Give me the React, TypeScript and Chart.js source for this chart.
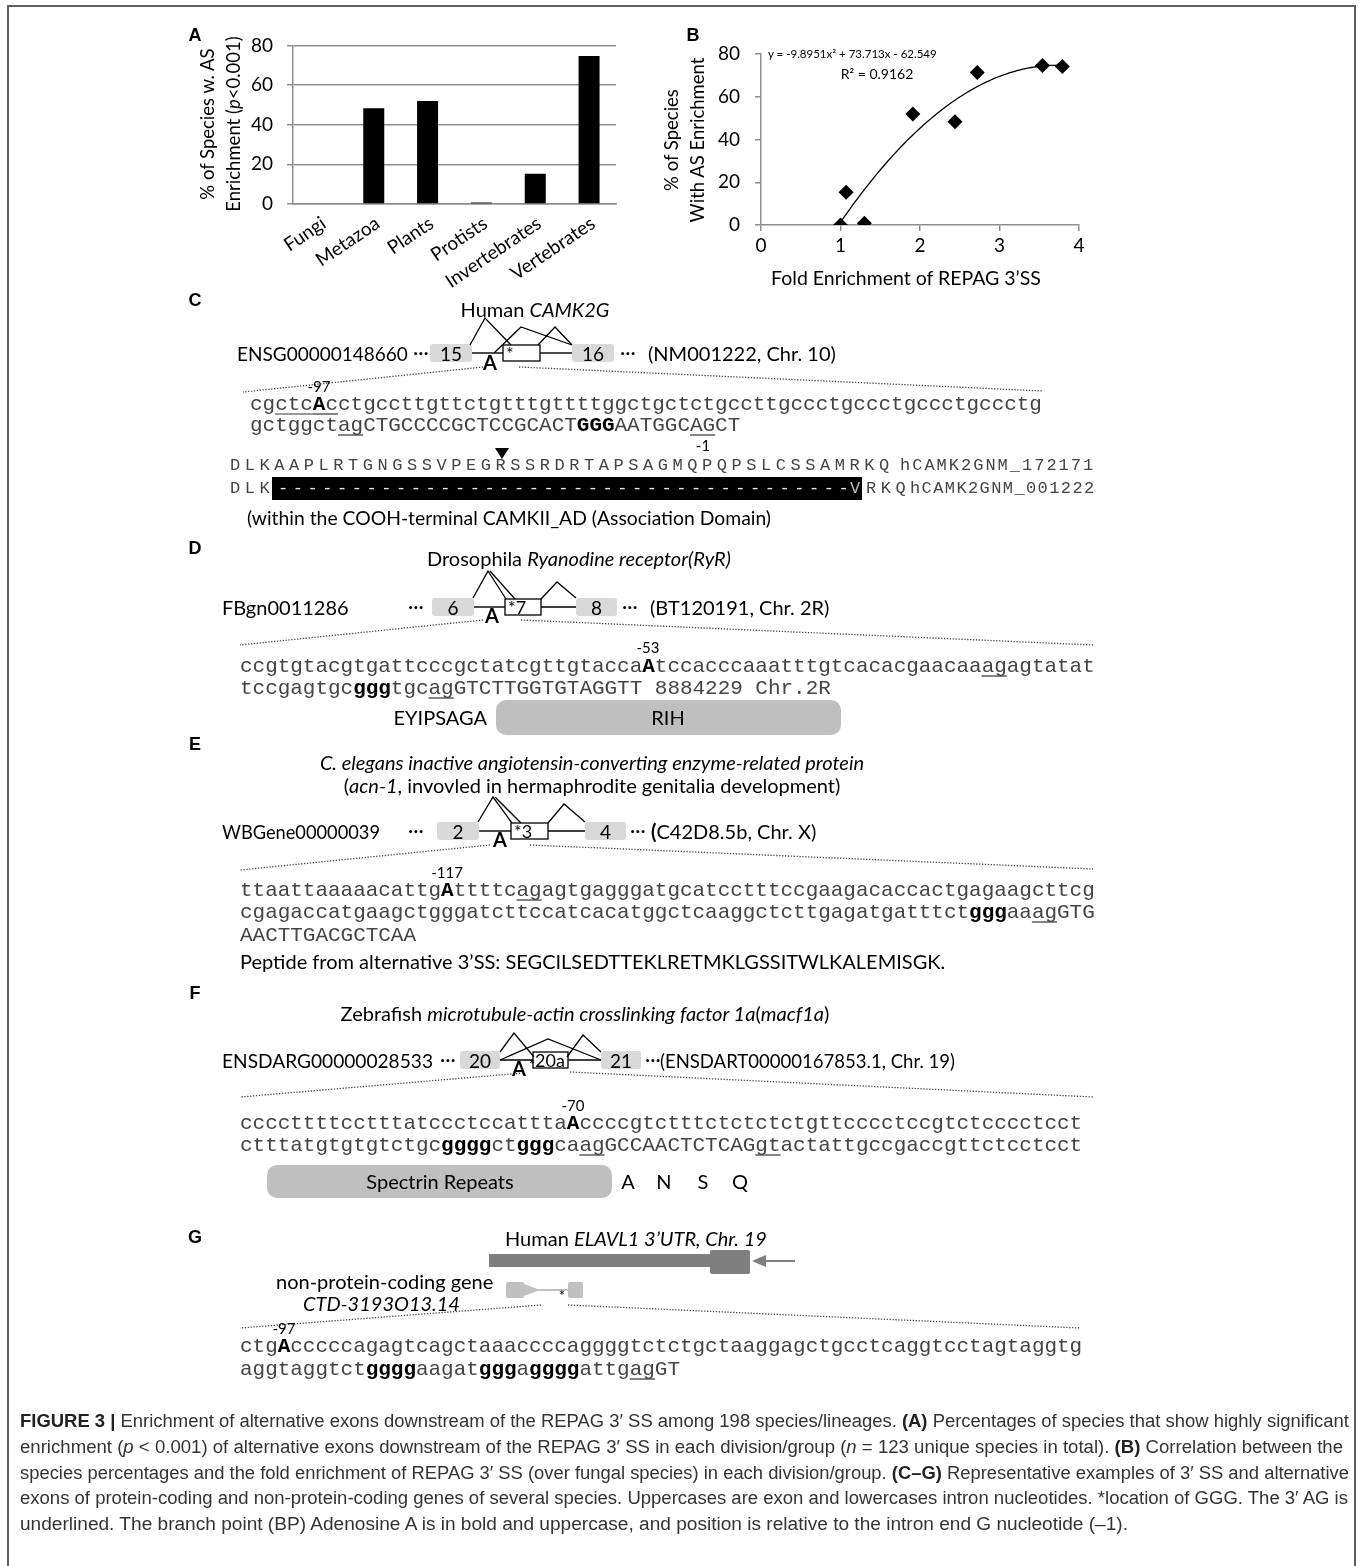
import React, { useEffect, useRef } from "react";
import { Chart, registerables } from "chart.js";
Chart.register(...registerables);

// ---------- Panel A data ----------
const CATEGORIES = ["Fungi", "Metazoa", "Plants", "Protists", "Invertebrates", "Vertebrates"];
const PCT_SPECIES = [0, 48.3, 51.9, 0.8, 15.3, 74.6];

// ---------- Panel B data ----------
const FOLD_ENRICH = [1.0, 1.07, 1.3, 1.91, 2.44, 2.72, 3.54, 3.79];
const PCT_ENRICH = [0, 15.3, 0.8, 51.9, 48.3, 71.3, 74.6, 74.1];
// polynomial trendline coefficients, as printed on the chart
const TREND_COEF = [-9.8951, 73.713, -62.549];
const TREND_RANGE = [1.0, 3.79];

const SANS = "Lato, 'Open Sans', sans-serif";
const ARIAL = "'Liberation Sans', Arial, sans-serif";
const MONO = "'Liberation Mono', 'DejaVu Sans Mono', monospace";
const CAP = "'Liberation Sans Narrow', 'Liberation Sans', Arial, sans-serif";
const GRID = "#8e8e8e";

type Seg = [string, string?];

// sequences
const C_SEQ1: Seg[] = [["cg"], ["ctc", "u"], ["A", "bu"], ["c", "u"], ["ctgccttgttctgtttgttttggctgctctgccttgccctgccctgccctgccctg"]];
const C_SEQ2: Seg[] = [["gctggct"], ["ag", "u"], ["CTGCCCCGCTCCGCACT"], ["GGG", "b"], ["AATGGC"], ["AG", "u"], ["CT"]];
const D_SEQ1: Seg[] = [["ccgtgtacgtgattcccgctatcgttgtacca"], ["A", "b"], ["tccacccaaatttgtcacacgaacaa"], ["ag", "u"], ["agtatat"]];
const D_SEQ2: Seg[] = [["tccgagtgc"], ["ggg", "b"], ["tgc"], ["ag", "u"], ["GTCTTGGTGTAGGTT 8884229 Chr.2R"]];
const E_SEQ1: Seg[] = [["ttaattaaaaacattg"], ["A", "b"], ["ttttc"], ["ag", "u"], ["agtgagggatgcatcctttccgaagacaccactgagaagcttcg"]];
const E_SEQ2: Seg[] = [["cgagaccatgaagctgggatcttccatcacatggctcaaggctcttgagatgatttct"], ["ggg", "b"], ["aa"], ["ag", "u"], ["GTG"]];
const E_SEQ3: Seg[] = [["AACTTGACGCTCAA"]];
const F_SEQ1: Seg[] = [["ccccttttcctttatccctccattta"], ["A", "b"], ["ccccgtctttctctctctgttcccctccgtctcccctcct"]];
const F_SEQ2: Seg[] = [["ctttatgtgtgtctgc"], ["gggg", "b"], ["ct"], ["ggg", "b"], ["ca"], ["ag", "u"], ["GCCAACTCTCAG"], ["gt", "u"], ["actattgccgaccgttctcctcct"]];
const G_SEQ1: Seg[] = [["ctg"], ["A", "b"], ["cccccagagtcagctaaaccccaggggtctctgctaaggagctgcctcaggtcctagtaggtg"]];
const G_SEQ2: Seg[] = [["aggtaggtct"], ["gggg", "b"], ["aagat"], ["ggg", "b"], ["a"], ["gggg", "b"], ["attg"], ["ag", "u"], ["GT"]];

const PROT1 = "DLKAAPLRTGNGSSVPEGRSSRDRTAPSAGMQPQPSLCSSAMRKQ";

const CAPTION: Seg[][] = [
  [["FIGURE 3 | ", "b"], ["Enrichment of alternative exons downstream of the REPAG 3\u2032 SS among 198 species/lineages. "], ["(A)", "b"], [" Percentages of species that show highly significant"]],
  [["enrichment ("], ["p", "i"], [" < 0.001) of alternative exons downstream of the REPAG 3\u2032 SS in each division/group ("], ["n", "i"], [" = 123 unique species in total). "], ["(B)", "b"], [" Correlation between the"]],
  [["species percentages and the fold enrichment of REPAG 3\u2032 SS (over fungal species) in each division/group. "], ["(C\u2013G)", "b"], [" Representative examples of 3\u2032 SS and alternative"]],
  [["exons of protein-coding and non-protein-coding genes of several species. Uppercases are exon and lowercases intron nucleotides. *location of GGG. The 3\u2032 AG is"]],
  [["underlined. The branch point (BP) Adenosine A is in bold and uppercase, and position is relative to the intron end G nucleotide (\u20131)."]],
];
const CAP_END = [1349, 1343, 1349, 1348, 1128];
const CAP_Y = [1421, 1447, 1473, 1498, 1524];

const T = ({ x, y, size = 20, anchor = "start", weight, italic, fam = SANS, fill = "#000", w, rot, children }: any) => (
  <text
    x={x}
    y={y}
    fontSize={size}
    fontFamily={fam}
    fill={fill}
    textAnchor={anchor}
    dominantBaseline="central"
    fontWeight={weight}
    fontStyle={italic ? "italic" : undefined}
    textLength={w}
    lengthAdjust={w ? "spacingAndGlyphs" : undefined}
    transform={rot ? `rotate(${rot} ${x} ${y})` : undefined}
  >
    {children}
  </text>
);

const Lbl = ({ x, y, children }: any) => (
  <T x={x} y={y} fam={ARIAL} weight="bold" size={18} anchor="middle">
    {children}
  </T>
);

const Seq = ({ x, y, segs, cw = 12.57, size = 21 }: { x: number; y: number; segs: Seg[]; cw?: number; size?: number }) => {
  let i = 0;
  const spans: any[] = [];
  const lines: any[] = [];
  segs.forEach(([s, f = ""], k) => {
    const xs = Array.from(s)
      .map((_, j) => (x + (i + j) * cw).toFixed(2))
      .join(" ");
    spans.push(
      <tspan key={k} x={xs} fontWeight={f.includes("b") ? "bold" : undefined} fill={f.includes("b") ? "#000" : undefined}>
        {s}
      </tspan>
    );
    if (f.includes("u"))
      lines.push(<line key={k} x1={x + i * cw} x2={x + (i + s.length) * cw} y1={y + 10} y2={y + 10} stroke="#333" strokeWidth={1.2} />);
    i += s.length;
  });
  return (
    <g>
      <text y={y} fontFamily={MONO} fontSize={size} fill="#444" dominantBaseline="central">
        {spans}
      </text>
      {lines}
    </g>
  );
};

const Mono = ({ x, y, text, pitch, size = 17, fill = "#444" }: any) => (
  <text y={y} fontFamily={MONO} fontSize={size} fill={fill} dominantBaseline="central">
    <tspan x={Array.from(text as string).map((_, j) => (x + j * pitch).toFixed(2)).join(" ")}>{text}</tspan>
  </text>
);

const Exon = ({ x1, x2, cy, label, h = 18 }: any) => (
  <g>
    <rect x={x1} y={cy - h / 2} width={x2 - x1} height={h} rx={3} fill="#d9d9d9" />
    <T x={(x1 + x2) / 2} y={cy} anchor="middle" size={19}>
      {label}
    </T>
  </g>
);

const Alt = ({ x1, x2, cy, label, h = 16, lx }: any) => (
  <g>
    <rect x={x1} y={cy - h / 2} width={x2 - x1} height={h} fill="#fff" stroke="#000" strokeWidth={1.3} />
    <T x={lx ?? x1 + 3} y={cy} size={18}>
      {label}
    </T>
  </g>
);

const Ln = ({ x1, x2, y }: any) => <line x1={x1} x2={x2} y1={y} y2={y} stroke="#000" strokeWidth={1.4} />;
const Pl = ({ pts }: any) => <polyline points={pts} fill="none" stroke="#000" strokeWidth={1.3} />;
const Dot = ({ x1, y1, x2, y2 }: any) => (
  <line x1={x1} y1={y1} x2={x2} y2={y2} stroke="#444" strokeWidth={1.3} strokeDasharray="1.3 1.6" />
);

export default function App() {
  const refA = useRef<HTMLCanvasElement>(null);
  const refB = useRef<HTMLCanvasElement>(null);

  useEffect(() => {
    const tickFont = { family: SANS, size: 19 };
    const a = new Chart(refA.current!, {
      type: "bar",
      data: {
        labels: CATEGORIES,
        datasets: [{ data: PCT_SPECIES, backgroundColor: "#000", borderWidth: 0, barPercentage: 0.39, categoryPercentage: 1 }],
      },
      options: {
        animation: false,
        responsive: false,
        maintainAspectRatio: false,
        layout: { padding: { left: 0, right: 24, top: 22.5, bottom: 0 } },
        plugins: { legend: { display: false }, tooltip: { enabled: false } },
        scales: {
          x: {
            grid: { display: false },
            border: { display: true, color: GRID, width: 1.5 },
            ticks: { autoSkip: false, minRotation: 34, maxRotation: 34, padding: 0, labelOffset: 4, font: { family: SANS, size: 19 }, color: "#000" },
            afterFit: (s: any) => {
              s.height = 106;
            },
          },
          y: {
            min: 0,
            max: 80,
            ticks: { stepSize: 20, font: tickFont, color: "#000", padding: 14 },
            grid: { color: GRID, lineWidth: 1.5, drawTicks: true, tickLength: 6 },
            border: { display: true, color: GRID, width: 1.5 },
            afterFit: (s: any) => {
              s.width = 123;
            },
          },
        },
      } as any,
    });

    const trend: { x: number; y: number }[] = [];
    for (let x = TREND_RANGE[0]; x <= TREND_RANGE[1] + 1e-9; x += 0.03) {
      trend.push({ x, y: TREND_COEF[0] * x * x + TREND_COEF[1] * x + TREND_COEF[2] });
    }
    const b = new Chart(refB.current!, {
      type: "scatter",
      data: {
        datasets: [
          {
            data: FOLD_ENRICH.map((x, i) => ({ x, y: PCT_ENRICH[i] })),
            pointStyle: "rectRot",
            pointRadius: 7.5,
            backgroundColor: "#000",
            borderColor: "#000",
            borderWidth: 0,
            order: 1,
          },
          {
            data: trend,
            showLine: true,
            borderColor: "#000",
            borderWidth: 1.3,
            pointRadius: 0,
            tension: 0,
            order: 2,
          },
        ],
      },
      options: {
        animation: false,
        responsive: false,
        maintainAspectRatio: false,
        layout: { padding: { left: 0, right: 21, top: 34, bottom: 0 } },
        plugins: { legend: { display: false }, tooltip: { enabled: false } },
        scales: {
          x: {
            type: "linear",
            min: 0,
            max: 4,
            ticks: { stepSize: 1, font: tickFont, color: "#000", padding: 3 },
            grid: { drawOnChartArea: false, drawTicks: true, tickLength: 6, color: GRID, lineWidth: 1.5 },
            border: { display: true, color: GRID, width: 1.5 },
            afterFit: (s: any) => {
              s.height = 75;
            },
          },
          y: {
            min: 0,
            max: 80,
            ticks: { stepSize: 20, font: tickFont, color: "#000", padding: 15 },
            grid: { drawOnChartArea: false, drawTicks: true, tickLength: 6, color: GRID, lineWidth: 1.5 },
            border: { display: true, color: GRID, width: 1.5 },
            afterFit: (s: any) => {
              s.width = 101;
            },
          },
        },
      } as any,
    });
    return () => {
      a.destroy();
      b.destroy();
    };
  }, []);

  const p1 = 14.75;
  return (
    <div style={{ position: "absolute", left: 0, top: 0, width: 1360, height: 1566, overflow: "hidden", background: "#fff" }}>
      <div style={{ position: "absolute", left: 7, top: 5, width: 1345, height: 1620, border: "2px solid #606060" }} />
      <canvas ref={refA} width={470} height={290} style={{ position: "absolute", left: 170, top: 20, width: 470, height: 290 }} />
      <canvas ref={refB} width={440} height={280} style={{ position: "absolute", left: 660, top: 20, width: 440, height: 280 }} />
      <svg width={1360} height={1566} style={{ position: "absolute", left: 0, top: 0 }}>
        {/* ---------- chart texts ---------- */}
        <Lbl x={195} y={35}>A</Lbl>
        <Lbl x={693} y={35}>B</Lbl>
        <T x={207} y={124} rot={-90} anchor="middle" size={18.5}>
          % of Species w. AS
        </T>
        <T x={233} y={124} rot={-90} anchor="middle" size={18.5}>
          Enrichment (<tspan fontStyle="italic">p</tspan>&lt;0.001)
        </T>
        <T x={671} y={140} rot={-90} anchor="middle" size={18.5}>
          % of Species
        </T>
        <T x={697} y={140} rot={-90} anchor="middle" size={18.5}>
          With AS Enrichment
        </T>
        <T x={906} y={277} anchor="middle" size={19.5}>
          Fold Enrichment of REPAG 3{"\u2019"}SS
        </T>
        <T x={768} y={53} size={11.5}>
          y = -9.8951x{"\u00b2"} + 73.713x - 62.549
        </T>
        <T x={877} y={73} size={14} anchor="middle">
          R{"\u00b2"} = 0.9162
        </T>

        {/* ---------- C ---------- */}
        <Lbl x={195} y={300}>C</Lbl>
        <T x={535} y={309} anchor="middle">
          Human <tspan fontStyle="italic">CAMK2G</tspan>
        </T>
        <T x={237} y={353} size={19}>ENSG00000148660</T>
        <T x={413} y={351}>···</T>
        <Exon x1={430} x2={472} cy={353} label="15" />
        <Ln x1={472} x2={503} y={353} />
        <Alt x1={503} x2={540} cy={353} label="*" />
        <Ln x1={540} x2={572} y={353} />
        <Exon x1={572} x2={614} cy={353} label="16" />
        <T x={620} y={351}>···</T>
        <T x={648} y={353}>(NM001222, Chr. 10)</T>
        <T x={490} y={362} anchor="middle" weight="bold">A</T>
        <Pl pts="470,345 485,318 511,345" />
        <Pl pts="494,353 521,327 572,345" />
        <Pl pts="538,345 555,327 572,345" />
        <Dot x1={483} y1={367} x2={243} y2={392} />
        <Dot x1={519} y1={367} x2={1043} y2={391} />
        <T x={319} y={386} anchor="middle" size={15}>-97</T>
        <Seq x={250} y={404} segs={C_SEQ1} />
        <Seq x={250} y={425} segs={C_SEQ2} />
        <T x={703} y={445} anchor="middle" size={15}>-1</T>
        <polygon points="495,448 509,448 502,459" fill="#000" />
        <Mono x={230} y={465} text={PROT1} pitch={p1} />
        <Mono x={900} y={465} text="hCAMK2GNM_172171" pitch={12.2} />
        <Mono x={230} y={488} text="DLK" pitch={p1} />
        <rect x={272} y={477} width={590} height={23} fill="#000" />
        <Mono x={278} y={488} text={"-".repeat(39)} pitch={p1} fill="#e8e8e8" />
        <Mono x={850} y={488} text="V" pitch={p1} fill="#bbb" />
        <Mono x={866} y={488} text="RKQ" pitch={p1} />
        <Mono x={910} y={488} text="hCAMK2GNM_001222" pitch={11.6} />
        <T x={247} y={517} w={524}>(within the COOH-terminal CAMKII_AD (Association Domain)</T>

        {/* ---------- D ---------- */}
        <Lbl x={195} y={548}>D</Lbl>
        <T x={427} y={558}>
          Drosophila <tspan fontStyle="italic">Ryanodine receptor(RyR)</tspan>
        </T>
        <T x={222} y={607}>FBgn0011286</T>
        <T x={408} y={605}>···</T>
        <Exon x1={432} x2={474} cy={607} label="6" />
        <Ln x1={474} x2={505} y={607} />
        <Alt x1={505} x2={541} cy={607} label="*7" />
        <Ln x1={541} x2={576} y={607} />
        <Exon x1={576} x2={617} cy={607} label="8" />
        <T x={622} y={605}>···</T>
        <T x={650} y={607}>(BT120191, Chr. 2R)</T>
        <T x={492} y={615} anchor="middle" weight="bold">A</T>
        <Pl pts="473,598 488,571 506,599" />
        <Pl pts="490,571 515,599" />
        <Pl pts="541,599 557,582 576,598" />
        <Dot x1={483} y1={620} x2={240} y2={645} />
        <Dot x1={521} y1={620} x2={1093} y2={645} />
        <T x={648} y={647} anchor="middle" size={15}>-53</T>
        <Seq x={240} y={666} segs={D_SEQ1} />
        <Seq x={240} y={688} segs={D_SEQ2} />
        <T x={487} y={717} anchor="end">EYIPSAGA</T>
        <rect x={496} y={700} width={345} height={35} rx={10} fill="#bfbfbf" />
        <T x={668} y={717} anchor="middle">RIH</T>

        {/* ---------- E ---------- */}
        <Lbl x={195} y={744}>E</Lbl>
        <T x={592} y={762} anchor="middle" italic>
          C. elegans inactive angiotensin-converting enzyme-related protein
        </T>
        <T x={592} y={785} anchor="middle">
          (<tspan fontStyle="italic">acn-1</tspan>, invovled in hermaphrodite genitalia development)
        </T>
        <T x={222} y={831} w={158}>WBGene00000039</T>
        <T x={408} y={829}>···</T>
        <Exon x1={437} x2={479} cy={831} label="2" />
        <Ln x1={479} x2={511} y={831} />
        <Alt x1={511} x2={548} cy={831} label="*3" />
        <Ln x1={548} x2={585} y={831} />
        <Exon x1={585} x2={626} cy={831} label="4" />
        <T x={630} y={829}>···</T>
        <T x={651} y={831}>
          <tspan fontWeight="bold">(</tspan>C42D8.5b, Chr. X)
        </T>
        <T x={500} y={839} anchor="middle" weight="bold">A</T>
        <Pl pts="478,822 493,797 512,823" />
        <Pl pts="495,797 521,823" />
        <Pl pts="548,823 564,804 585,822" />
        <Dot x1={490} y1={845} x2={240} y2={870} />
        <Dot x1={530} y1={845} x2={1093} y2={869} />
        <T x={447} y={872} anchor="middle" size={15}>-117</T>
        <Seq x={240} y={890} segs={E_SEQ1} />
        <Seq x={240} y={912} segs={E_SEQ2} />
        <Seq x={240} y={935} segs={E_SEQ3} />
        <T x={240} y={961}>Peptide from alternative 3{"\u2019"}SS: SEGCILSEDTTEKLRETMKLGSSITWLKALEMISGK.</T>

        {/* ---------- F ---------- */}
        <Lbl x={195} y={993}>F</Lbl>
        <T x={585} y={1013} anchor="middle">
          Zebrafish <tspan fontStyle="italic">microtubule-actin crosslinking factor 1a</tspan>(<tspan fontStyle="italic">macf1a</tspan>)
        </T>
        <T x={222} y={1060} w={211}>ENSDARG00000028533</T>
        <T x={440} y={1058}>···</T>
        <Exon x1={460} x2={500} cy={1060} label="20" />
        <Ln x1={500} x2={533} y={1060} />
        <Alt x1={533} x2={568} cy={1060} label="20a" lx={535} />
        <Ln x1={568} x2={601} y={1060} />
        <Exon x1={601} x2={641} cy={1060} label="21" />
        <T x={645} y={1058}>···</T>
        <T x={660} y={1060} w={295}>(ENSDART00000167853.1, Chr. 19)</T>
        <T x={519} y={1068} anchor="middle" weight="bold">A</T>
        <T x={529} y={1064} size={15}>*</T>
        <Pl pts="500,1052 514,1033 534,1057" />
        <Pl pts="500,1060 548,1039 601,1060" />
        <Pl pts="567,1057 583,1035 601,1052" />
        <Dot x1={523} y1={1073} x2={240} y2={1097} />
        <Dot x1={570} y1={1072} x2={1093} y2={1097} />
        <T x={573} y={1105} anchor="middle" size={15}>-70</T>
        <Seq x={240} y={1123} segs={F_SEQ1} />
        <Seq x={240} y={1145} segs={F_SEQ2} />
        <rect x={267} y={1165} width={345} height={33} rx={10} fill="#bfbfbf" />
        <T x={440} y={1181} anchor="middle">Spectrin Repeats</T>
        <T x={628} y={1181} anchor="middle">A</T>
        <T x={664} y={1181} anchor="middle">N</T>
        <T x={703} y={1181} anchor="middle">S</T>
        <T x={740} y={1181} anchor="middle">Q</T>

        {/* ---------- G ---------- */}
        <Lbl x={195} y={1237}>G</Lbl>
        <T x={505} y={1238}>
          Human <tspan fontStyle="italic">ELAVL1 3{"\u2019"}UTR, Chr. 19</tspan>
        </T>
        <rect x={489} y={1254} width={222} height={13} fill="#7f7f7f" />
        <rect x={710} y={1250} width={40} height={24} rx={2} fill="#7f7f7f" />
        <line x1={795} y1={1261} x2={762} y2={1261} stroke="#7f7f7f" strokeWidth={2} />
        <polygon points="752,1261 766,1255 766,1267" fill="#7f7f7f" />
        <T x={276} y={1281}>non-protein-coding gene</T>
        <T x={303} y={1303} italic>CTD-3193O13.14</T>
        <rect x={506} y={1282} width={18} height={16} rx={2} fill="#c0c0c0" />
        <polygon points="524,1284 540,1290 524,1296" fill="#c0c0c0" />
        <line x1={538} y1={1290} x2={568} y2={1290} stroke="#c0c0c0" strokeWidth={2} />
        <rect x={568} y={1282} width={15} height={16} rx={2} fill="#c0c0c0" />
        <T x={562} y={1295} anchor="middle" size={15}>*</T>
        <Dot x1={541} y1={1305} x2={240} y2={1328} />
        <Dot x1={568} y1={1305} x2={1080} y2={1328} />
        <T x={284} y={1328} anchor="middle" size={15}>-97</T>
        <Seq x={240} y={1346} segs={G_SEQ1} />
        <Seq x={240} y={1369} segs={G_SEQ2} />

        {/* ---------- caption ---------- */}
        {CAPTION.map((line, li) => (
          <text
            key={li}
            x={20}
            y={CAP_Y[li]}
            fontFamily={CAP}
            fontSize={18}
            fill="#333"
            dominantBaseline="central"
            textLength={CAP_END[li] - 20}
            lengthAdjust="spacingAndGlyphs"
          >
            {line.map(([s, f = ""], k) => (
              <tspan key={k} fontWeight={f.includes("b") ? "bold" : undefined} fontStyle={f.includes("i") ? "italic" : undefined} fill={f.includes("b") ? "#222" : undefined}>
                {s}
              </tspan>
            ))}
          </text>
        ))}
      </svg>
    </div>
  );
}
